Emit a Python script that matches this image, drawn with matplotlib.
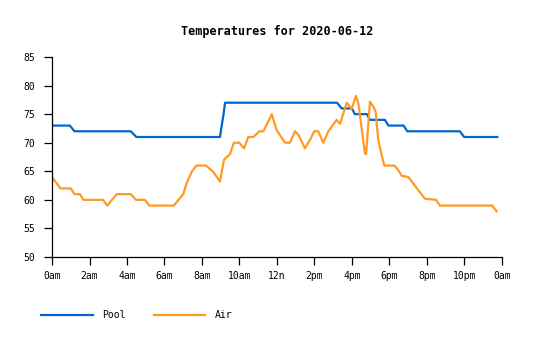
import matplotlib

matplotlib.use("Agg")

from matplotlib import pyplot as plt  # noqa: E402

title = "Temperatures for 2020-06-12"

pool_hours = [0.0, 0.95, 1.2, 4.2, 4.5, 8.96, 9.05, 9.15, 9.23, 15.2, 15.45,
              16.0, 16.15, 16.8, 16.95, 17.75, 17.95, 18.75, 18.95, 21.75,
              21.98, 23.75]
pool_temps = [73, 73, 72, 72, 71, 71, 73, 75, 77, 77, 76,
              76, 75, 75, 74, 74, 73, 73, 72, 72,
              71, 71]

air_hours = [0.0, 0.45, 1.0, 1.2, 1.5, 1.67, 2.72, 2.95, 3.45, 4.2, 4.48,
             4.96, 5.19, 6.5, 7.0, 7.18, 7.45, 7.7, 8.21, 8.6, 8.96, 9.17,
             9.49, 9.7, 9.99, 10.24, 10.47, 10.74, 11.06, 11.28, 11.72, 11.98,
             12.43, 12.69, 12.96, 13.14, 13.49, 13.76, 13.99, 14.2, 14.47,
             14.74, 15.18, 15.36, 15.72, 15.89, 15.98, 16.21, 16.34, 16.48,
             16.69, 16.75, 16.96, 17.14, 17.26, 17.4, 17.58, 17.72, 18.26,
             18.47, 18.65, 19.0, 19.89, 20.48, 20.69, 23.48, 23.71]
air_temps = [64, 62, 62, 61, 61, 60, 60, 59, 61, 61, 60,
             60, 59, 59, 61, 62.9, 64.9, 66, 66, 64.9, 63.2, 67,
             68, 70, 70, 69, 71, 71, 72, 72, 75, 72.2,
             70, 70, 72, 71.4, 69, 70.5, 72, 72, 70,
             72, 74, 73.3, 77, 76.3, 75.9, 78.2, 76.9, 73.4,
             68.1, 68, 77.2, 76.3, 75.4, 70.5, 67.85, 66, 66,
             65.2, 64.2, 64, 60.2, 60, 59, 59, 58]

x_ticks = [0, 2, 4, 6, 8, 10, 12, 14, 16, 18, 20, 22, 24]
x_tick_labels = ["0am", "2am", "4am", "6am", "8am", "10am", "12n",
                 "2pm", "4pm", "6pm", "8pm", "10pm", "0am"]
y_ticks = [50, 55, 60, 65, 70, 75, 80, 85]

plt.rcParams["font.family"] = ["DejaVu Sans Mono"]

figure = plt.figure(figsize=(5.35, 3.4), dpi=100)
axis = figure.add_axes((52 / 535, 1 - 257 / 340, 450 / 535, 200 / 340))

axis.plot(pool_hours, pool_temps, color="#0066cc", linewidth=1.6, label="Pool")
axis.plot(air_hours, air_temps, color="#ff9a24", linewidth=1.6, label="Air")

axis.set_xlim(0, 24)
axis.set_ylim(50, 85)
axis.set_xticks(x_ticks)
axis.set_xticklabels(x_tick_labels)
axis.set_yticks(y_ticks)
axis.tick_params(axis="both", direction="out", length=6, width=0.9,
                 labelsize=7, colors="black")
axis.tick_params(axis="y", pad=6)
axis.tick_params(axis="x", pad=4)
for side in ("top", "right"):
    axis.spines[side].set_visible(False)
for side in ("left", "bottom"):
    axis.spines[side].set_linewidth(0.9)

figure.text(277 / 535, 1 - 31 / 340, title, ha="center", va="center",
            fontsize=8.5, fontweight="bold")

figure.legend(
    loc="center left",
    bbox_to_anchor=(41 / 535, 1 - 315 / 340),
    ncol=2,
    frameon=False,
    fontsize=7,
    handlelength=5.3,
    handletextpad=1.0,
    columnspacing=2.9,
    borderpad=0,
    borderaxespad=0,
)

figure.savefig("out.png", dpi=100)
